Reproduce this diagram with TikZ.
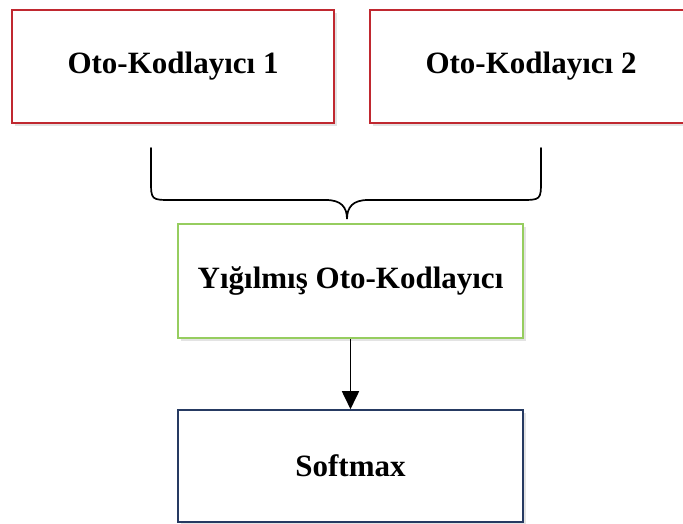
\documentclass[tikz,border=0pt]{standalone}
\usepackage{fontspec}
\setmainfont{Liberation Serif}
\usepackage{tikz}
\usetikzlibrary{arrows.meta,positioning,shadows}

\definecolor{aered}{RGB}{192,40,48}
\definecolor{saegreen}{RGB}{150,205,95}
\definecolor{softblue}{RGB}{38,58,98}

\begin{document}
\begin{tikzpicture}[x=1pt, y=-1pt,
    box/.style={draw, line width=1.6pt, fill=white, minimum height=113pt, align=center,
                font=\fontsize{31}{36}\selectfont\bfseries,
                drop shadow={opacity=0.22, shadow xshift=2.5pt, shadow yshift=-2.5pt}},
    arrow/.style={-{Triangle[length=18pt, width=17pt]}, line width=1.8pt},
    bracket/.style={line width=1.7pt, line cap=round}
]
\clip (0,0) rectangle (683,523);
\fill[white] (0,0) rectangle (683,523);

\node[box, draw=aered, minimum width=322pt] (ae1) at (173,66.5) {Oto-Kodlayıcı 1};
\node[box, draw=aered, minimum width=322pt] (ae2) at (531,66.5) {Oto-Kodlayıcı 2};
\node[box, draw=saegreen, minimum width=345pt, minimum height=114pt] (sae) at (350.5,281) {Yığılmış Oto-Kodlayıcı};
\node[box, draw=softblue, minimum width=345pt, minimum height=112pt] (soft) at (350.5,466) {Softmax};

% curly bracket joining both encoders
\coordinate (bl) at (151,148);
\coordinate (br) at (541,148);
\coordinate (tip) at (347,219);
\draw[bracket] (bl) -- (151,180) .. controls (151,200) .. (172,200) -- (326,200)
    .. controls (341,200) and (347,207) .. (tip)
    .. controls (347,207) and (353,200) .. (368,200) -- (520,200)
    .. controls (541,200) .. (541,180) -- (br);

\draw[arrow] (sae) -- (soft);
\end{tikzpicture}
\end{document}
